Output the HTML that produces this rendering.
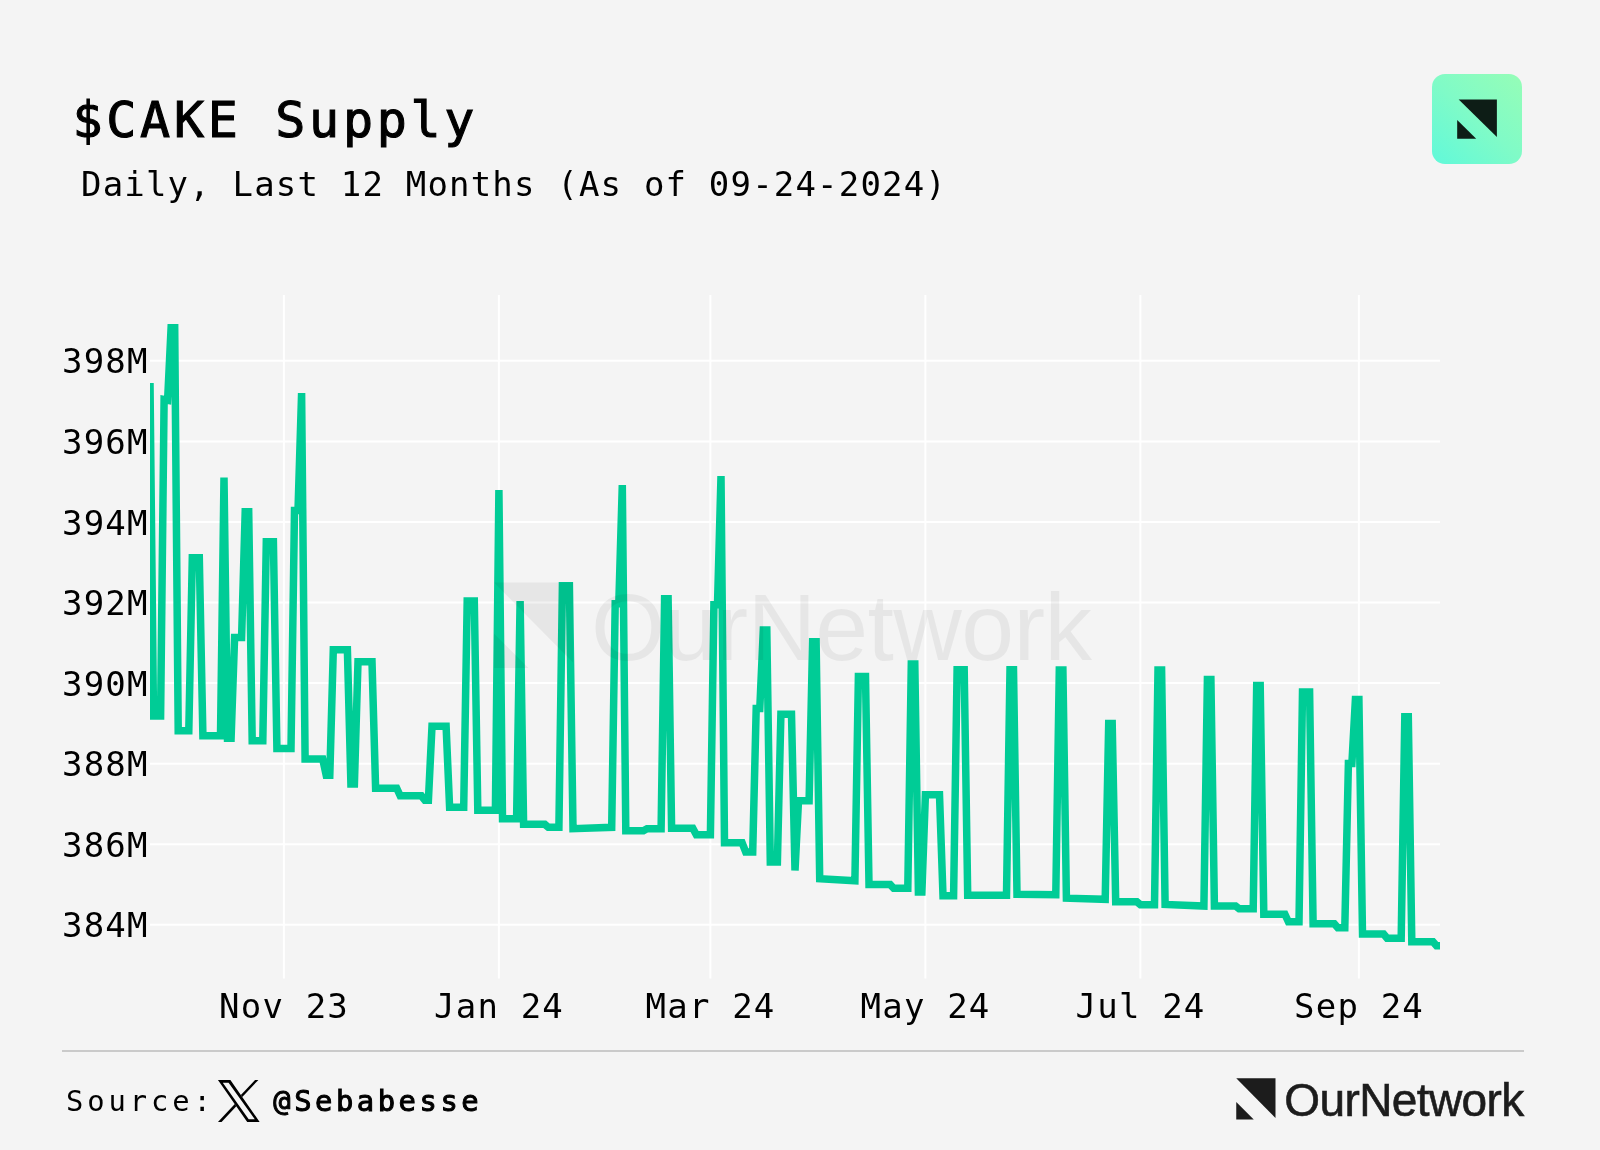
<!DOCTYPE html>
<html lang="en">
<head>
<meta charset="utf-8">
<title>$CAKE Supply</title>
<style>
html,body{margin:0;padding:0;}
body{width:1600px;height:1150px;background:#f4f4f4;position:relative;overflow:hidden;font-family:"DejaVu Sans Mono","Liberation Mono",monospace;color:#000;}
.badge{position:absolute;left:1432px;top:74px;width:90px;height:90px;border-radius:13px;background:linear-gradient(222deg,#94fdb8 4%,#80fbc7 50%,#63f9d8 96%);}
.badge svg{position:absolute;left:0;top:0;}
svg.chart{position:absolute;left:0;top:0;will-change:transform;}
.divider{position:absolute;left:62px;top:1050px;width:1462px;height:2px;background:#cacaca;}
.brand{position:absolute;left:1236px;top:1078px;}
</style>
</head>
<body>
<div class="badge"><svg width="90" height="90" viewBox="0 0 90 90"><path d="M26.7 25.4 H64.9 V63 Z" fill="#0d1d16"/><path d="M25.2 46 V64.8 H44.2 Z" fill="#0d1d16"/></svg></div>

<svg class="chart" width="1600" height="1150" viewBox="0 0 1600 1150">
<defs><clipPath id="plot"><rect x="150" y="290" width="1290" height="700"/></clipPath></defs>
<g stroke="#ffffff" stroke-width="2" fill="none">
<line x1="150" x2="1440" y1="360.8" y2="360.8"/>
<line x1="150" x2="1440" y1="441.4" y2="441.4"/>
<line x1="150" x2="1440" y1="521.9" y2="521.9"/>
<line x1="150" x2="1440" y1="602.5" y2="602.5"/>
<line x1="150" x2="1440" y1="683.1" y2="683.1"/>
<line x1="150" x2="1440" y1="763.7" y2="763.7"/>
<line x1="150" x2="1440" y1="844.2" y2="844.2"/>
<line x1="150" x2="1440" y1="924.8" y2="924.8"/>
<line x1="283.9" x2="283.9" y1="295" y2="978.5"/>
<line x1="498.9" x2="498.9" y1="295" y2="978.5"/>
<line x1="710.4" x2="710.4" y1="295" y2="978.5"/>
<line x1="925.4" x2="925.4" y1="295" y2="978.5"/>
<line x1="1140.4" x2="1140.4" y1="295" y2="978.5"/>
<line x1="1358.9" x2="1358.9" y1="295" y2="978.5"/>
</g>
<g clip-path="url(#plot)">
<path d="M150.0 383.0 L153.5 715.9 L160.6 715.9 L164.1 399.5 L167.6 400.2 L171.1 327.8 L174.7 327.8 L178.2 730.7 L188.8 730.7 L192.3 557.8 L199.3 557.8 L202.9 735.8 L220.5 735.8 L224.0 477.6 L227.5 738.2 L231.1 738.2 L234.6 637.4 L241.6 637.4 L245.2 511.8 L248.7 511.8 L252.2 740.8 L262.8 740.8 L266.3 541.8 L273.4 541.8 L276.9 748.4 L291.0 748.4 L294.5 510.4 L298.0 510.4 L301.6 393.0 L305.1 759.1 L322.7 759.1 L326.2 775.2 L329.8 775.2 L333.3 649.8 L347.4 649.8 L350.9 784.0 L354.4 784.0 L358.0 661.8 L372.0 661.8 L375.6 788.2 L396.7 788.2 L400.2 795.8 L421.4 795.8 L424.9 800.2 L428.4 800.2 L432.0 726.2 L446.1 726.2 L449.6 807.2 L463.7 807.2 L467.2 601.0 L474.3 601.0 L477.8 810.2 L495.4 810.2 L498.9 490.0 L502.5 818.8 L516.6 818.8 L520.1 601.0 L523.6 824.3 L544.8 824.3 L548.3 827.3 L558.9 827.3 L562.4 585.8 L569.4 585.8 L573.0 828.7 L611.7 827.3 L615.2 603.8 L618.8 603.8 L622.3 485.0 L625.8 830.7 L643.4 830.7 L647.0 828.7 L661.1 828.7 L664.6 598.8 L668.1 598.8 L671.6 828.2 L692.8 828.2 L696.3 834.7 L710.4 834.7 L713.9 604.8 L717.5 604.8 L721.0 476.0 L724.5 842.8 L742.1 842.8 L745.7 851.9 L752.7 851.9 L756.2 708.4 L759.8 708.4 L763.3 630.1 L766.8 630.1 L770.3 862.0 L777.4 862.0 L780.9 714.2 L791.5 714.2 L795.0 870.5 L798.5 800.8 L809.1 800.8 L812.6 641.8 L816.1 641.8 L819.7 878.8 L854.9 880.8 L858.4 676.4 L865.5 676.4 L869.0 884.6 L890.2 884.6 L893.7 888.3 L907.8 888.3 L911.3 664.1 L914.8 664.1 L918.4 891.9 L921.9 891.9 L925.4 794.8 L939.5 794.8 L943.0 895.8 L953.6 895.8 L957.1 669.8 L964.2 669.8 L967.7 895.3 L1006.5 895.3 L1010.0 669.8 L1013.5 669.8 L1017.0 894.3 L1055.8 894.7 L1059.3 670.1 L1062.9 670.1 L1066.4 898.2 L1105.2 899.3 L1108.7 723.4 L1112.2 723.4 L1115.7 901.8 L1136.9 901.8 L1140.4 904.7 L1154.5 904.7 L1158.0 670.1 L1161.6 670.1 L1165.1 904.5 L1203.9 906.0 L1207.4 679.4 L1210.9 679.4 L1214.4 906.0 L1235.6 906.0 L1239.1 908.7 L1253.2 908.7 L1256.7 685.4 L1260.2 685.4 L1263.8 914.2 L1284.9 914.2 L1288.4 921.8 L1299.0 921.8 L1302.5 692.1 L1309.6 692.1 L1313.1 923.8 L1334.3 923.8 L1337.8 927.8 L1344.8 927.8 L1348.4 763.4 L1351.9 763.4 L1355.4 699.5 L1358.9 699.5 L1362.5 934.0 L1383.6 934.0 L1387.1 938.2 L1401.2 938.2 L1404.8 716.8 L1408.3 716.8 L1411.8 941.8 L1433.0 941.8 L1436.5 945.8 L1440.0 945.8" fill="none" stroke="#00cc96" stroke-width="7.5" stroke-linejoin="miter" stroke-miterlimit="2"/>
</g>
<g fill="#000" fill-opacity="0.055">
<path d="M494 582.5 H573 V662.5 Z"/><path d="M494 633.5 V668 H528.5 Z"/>
<text x="591" y="659.5" font-family="Liberation Sans, sans-serif" font-size="95" letter-spacing="-0.65">OurNetwork</text>
</g>
<g font-family="DejaVu Sans Mono, Liberation Mono, monospace" font-size="34" letter-spacing="1.18" fill="#000">
<text x="62" y="373.4">398M</text>
<text x="62" y="454.0">396M</text>
<text x="62" y="534.5">394M</text>
<text x="62" y="615.1">392M</text>
<text x="62" y="695.7">390M</text>
<text x="62" y="776.3">388M</text>
<text x="62" y="856.8">386M</text>
<text x="62" y="937.4">384M</text>
<text x="219.1" y="1018">Nov 23</text>
<text x="434.1" y="1018">Jan 24</text>
<text x="645.6" y="1018">Mar 24</text>
<text x="860.6" y="1018">May 24</text>
<text x="1075.6" y="1018">Jul 24</text>
<text x="1294.1" y="1018">Sep 24</text>
<text x="81" y="195.6">Daily, Last 12 Months (As of 09-24-2024)</text>
</g>
<text x="72.5" y="137.4" font-family="DejaVu Sans Mono, Liberation Mono, monospace" font-size="50" letter-spacing="3.7" fill="#000" stroke="#000" stroke-width="1.1">$CAKE Supply</text>
<g fill="#000">
<path fill-rule="evenodd" d="M217.95 1079.9 H230.4 L259.65 1121.9 H247.2 Z M222.8 1082.65 H228.6 L254.8 1119.15 H248.7 Z"/>
<path d="M255.1 1079.9 H258.4 L242.27 1096.95 L240.87 1094.94 Z"/>
<path d="M217.95 1121.9 H221.6 L236.34 1106.31 L234.8 1104.09 Z"/>
</g>
<text x="66" y="1110.6" font-family="DejaVu Sans Mono, Liberation Mono, monospace" font-size="28.8" letter-spacing="3.9" fill="#000">Source:</text>
<text x="273.3" y="1110.6" font-family="DejaVu Sans Mono, Liberation Mono, monospace" font-size="28.8" letter-spacing="3.55" fill="#000" stroke="#000" stroke-width="1">@Sebabesse</text>
<text x="1284.3" y="1115.5" font-family="Liberation Sans, sans-serif" font-size="46" letter-spacing="-0.6" fill="#1c1c1c" stroke="#1c1c1c" stroke-width="0.6">OurNetwork</text>
</svg>

<div class="divider"></div>
<svg class="brand" width="42" height="44" viewBox="0 0 42 44"><path d="M0.25 0.25 H39.5 V40 Z" fill="#1c1c1c"/><path d="M0.25 24 V41.5 H17.75 Z" fill="#1c1c1c"/></svg>
</body>
</html>
